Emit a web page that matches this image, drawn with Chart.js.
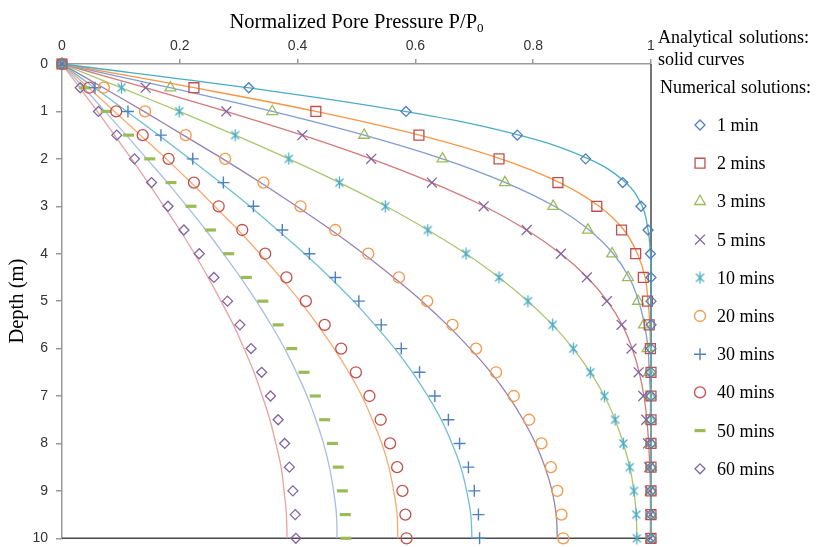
<!DOCTYPE html>
<html><head><meta charset="utf-8">
<script src="https://cdn.jsdelivr.net/npm/chart.js@4.4.1/dist/chart.umd.min.js"></script>
<style>html,body{margin:0;padding:0;background:#fff;}#wrap{width:817px;height:547px;}</style>
</head><body><div id="wrap"><canvas id="c" width="817" height="547"></canvas></div>
<script>
// ---- data ----
const depths = [0,0.5,1,1.5,2,2.5,3,3.5,4,4.5,5,5.5,6,6.5,7,7.5,8,8.5,9,9.5,10];
const timeLabels = ['1 min','2 mins','3 mins','5 mins','10 mins','20 mins','30 mins','40 mins','50 mins','60 mins'];
const xTickValues = [0,0.2,0.4,0.6,0.8,1];
const yTickValues = [0,1,2,3,4,5,6,7,8,9,10];

// analytical solutions (solid curves)
const ana1  = [0,0.315,0.582,0.776,0.894,0.957,0.985,0.995,0.999,1,1,1,1,1,1,1,1,1,1,1,1];
const ana2  = [0,0.224,0.431,0.607,0.745,0.845,0.912,0.954,0.977,0.990,0.995,0.998,0.999,1,1,1,1,1,1,1,1];
const ana3  = [0,0.183,0.357,0.513,0.646,0.753,0.836,0.895,0.936,0.963,0.979,0.989,0.995,0.997,0.999,0.999,1,1,1,1,1];
const ana5  = [0,0.142,0.279,0.408,0.525,0.628,0.717,0.789,0.847,0.892,0.926,0.951,0.968,0.980,0.988,0.993,0.996,0.998,0.999,0.999,0.999];
const ana10 = [0,0.100,0.199,0.294,0.385,0.471,0.550,0.621,0.686,0.742,0.791,0.833,0.868,0.897,0.921,0.939,0.953,0.964,0.971,0.975,0.976];
const ana20 = [0,0.070,0.139,0.206,0.273,0.337,0.398,0.457,0.512,0.563,0.611,0.654,0.693,0.728,0.758,0.783,0.804,0.820,0.832,0.839,0.841];
const ana30 = [0,0.055,0.110,0.164,0.217,0.269,0.319,0.366,0.412,0.455,0.495,0.531,0.565,0.595,0.621,0.644,0.662,0.677,0.687,0.694,0.696];
const ana40 = [0,0.045,0.089,0.133,0.177,0.219,0.259,0.299,0.336,0.371,0.404,0.434,0.462,0.487,0.509,0.527,0.543,0.555,0.563,0.569,0.570];
const ana50 = [0,0.037,0.073,0.109,0.144,0.179,0.212,0.244,0.274,0.303,0.330,0.355,0.378,0.398,0.416,0.431,0.444,0.454,0.461,0.466,0.467];
const ana60 = [0,0.030,0.060,0.089,0.118,0.146,0.173,0.200,0.225,0.248,0.270,0.291,0.309,0.326,0.340,0.353,0.363,0.372,0.377,0.381,0.382];

// numerical solutions (markers)
const num1  = [0,0.317,0.584,0.773,0.889,0.952,0.983,0.995,0.999,1,1,1,1,1,1,1,1,1,1,1,1];
const num2  = [0,0.224,0.431,0.606,0.742,0.842,0.908,0.950,0.974,0.987,0.994,0.997,0.999,1,1,1,1,1,1,1,1];
const num3  = [0,0.184,0.357,0.513,0.646,0.752,0.834,0.893,0.934,0.961,0.978,0.988,0.994,0.997,0.999,0.999,1,1,1,1,1];
const num5  = [0,0.142,0.279,0.408,0.525,0.628,0.716,0.789,0.847,0.891,0.925,0.950,0.967,0.979,0.987,0.992,0.995,0.997,0.998,0.999,0.999];
const num10 = [0,0.101,0.199,0.294,0.385,0.471,0.549,0.621,0.686,0.742,0.791,0.833,0.868,0.897,0.921,0.939,0.953,0.964,0.971,0.975,0.976];
const num20 = [0,0.071,0.141,0.210,0.277,0.342,0.405,0.464,0.520,0.572,0.620,0.663,0.703,0.737,0.767,0.793,0.814,0.830,0.841,0.848,0.851];
const num30 = [0,0.056,0.112,0.168,0.222,0.274,0.325,0.374,0.420,0.464,0.504,0.542,0.576,0.607,0.633,0.656,0.675,0.690,0.700,0.707,0.709];
const num40 = [0,0.046,0.092,0.137,0.181,0.224,0.266,0.306,0.345,0.381,0.414,0.446,0.474,0.499,0.522,0.541,0.557,0.569,0.578,0.583,0.585];
const num50 = [0,0.038,0.075,0.113,0.149,0.185,0.219,0.252,0.283,0.313,0.341,0.367,0.390,0.411,0.430,0.446,0.459,0.469,0.476,0.481,0.482];
const num60 = [0,0.031,0.062,0.093,0.123,0.152,0.180,0.207,0.233,0.258,0.281,0.302,0.321,0.339,0.354,0.367,0.378,0.386,0.392,0.396,0.397];

const anaSeries = [ana1,ana2,ana3,ana5,ana10,ana20,ana30,ana40,ana50,ana60];
const numSeries = [num1,num2,num3,num5,num10,num20,num30,num40,num50,num60];

// ---- styles ----
const curveColors = ['#4BACC6','#F79646','#7F9CD3','#D27A77','#A9C66F','#9580B4','#6FBFD3','#F8AA70','#A9BDE3','#E7A3A1'];
const markerColors = ['#4F81BD','#C0504D','#9BBB59','#8064A2','#4BACC6','#F79646','#4F81BD','#C0504D','#9BBB59','#8064A2'];

function makeAsterisk(color){
  const c=document.createElement('canvas'); c.width=13; c.height=13;
  const g=c.getContext('2d'); g.strokeStyle=color; g.lineWidth=1.3;
  g.beginPath();
  g.moveTo(2.5,2.5); g.lineTo(10.5,10.5);
  g.moveTo(10.5,2.5); g.lineTo(2.5,10.5);
  g.moveTo(6.5,0.5); g.lineTo(6.5,12.5);
  g.stroke(); return c;
}
const markerStyles = [
  {pointStyle:'rectRot', radius:5, bw:1.3},
  {pointStyle:'rect', radius:7, bw:1.3},
  {pointStyle:'triangle', radius:6.2, bw:1.3},
  {pointStyle:'crossRot', radius:7, bw:1.3},
  {pointStyle:makeAsterisk('#4BACC6'), radius:6, bw:1.3},
  {pointStyle:'circle', radius:5.5, bw:1.3},
  {pointStyle:'cross', radius:6, bw:1.4},
  {pointStyle:'circle', radius:5.5, bw:1.3},
  {pointStyle:'line', radius:5.5, bw:3.2},
  {pointStyle:'rectRot', radius:5, bw:1.3}
];

const toPoints = arr => arr.map((v,i)=>({x:v, y:depths[i]}));

const datasets = [];
numSeries.forEach((arr,i)=>{
  datasets.push({
    label: timeLabels[i], data: toPoints(arr), showLine:false,
    pointStyle: markerStyles[i].pointStyle, pointRadius: markerStyles[i].radius,
    pointBorderColor: markerColors[i], pointBackgroundColor:'rgba(0,0,0,0)',
    pointBorderWidth: markerStyles[i].bw, pointHoverRadius: markerStyles[i].radius, clip:false
  });
});
anaSeries.forEach((arr,i)=>{
  datasets.push({
    label: 'analytical '+timeLabels[i], data: toPoints(arr), showLine:true,
    borderColor: curveColors[i], borderWidth:1.3, pointRadius:0, tension:0.4, fill:false, clip:false
  });
});

const axisColor = '#9a9a9a';
const fontSerif = '"Liberation Serif", "Times New Roman", serif';

const decorPlugin = {
  id:'decor',
  beforeDatasetsDraw(chart){
    const {ctx, chartArea:a} = chart;
    ctx.save();
    ctx.strokeStyle = '#4a4a4a'; ctx.lineWidth = 1.5;
    ctx.beginPath();
    ctx.moveTo(a.right, a.top); ctx.lineTo(a.right, a.bottom);
    ctx.moveTo(a.left, a.bottom); ctx.lineTo(a.right, a.bottom);
    ctx.stroke();
    ctx.restore();
  },
  afterDraw(chart){
    const {ctx, chartArea:a} = chart;
    ctx.save();
    ctx.fillStyle = '#000';
    // x title with subscript
    const main = 'Normalized Pore Pressure P/P', sub = '0';
    ctx.font = '20.5px ' + fontSerif;
    const wMain = ctx.measureText(main).width;
    ctx.font = '13px ' + fontSerif;
    const wSub = ctx.measureText(sub).width;
    let x0 = (a.left + a.right)/2 - (wMain + wSub)/2;
    ctx.textBaseline = 'alphabetic'; ctx.textAlign='left';
    ctx.font = '20.5px ' + fontSerif;
    ctx.fillText(main, x0, 28);
    ctx.font = '13px ' + fontSerif;
    ctx.fillText(sub, x0 + wMain, 32);
    // y title
    ctx.save();
    ctx.translate(18, (a.top + a.bottom)/2);
    ctx.rotate(-Math.PI/2);
    ctx.font = '20.5px ' + fontSerif;
    ctx.textAlign='center'; ctx.textBaseline='middle';
    ctx.fillText('Depth (m)', 0, 0);
    ctx.restore();
    // legend
    ctx.font = '18px ' + fontSerif;
    ctx.textAlign='left'; ctx.textBaseline='alphabetic';
    ctx.fillText('Analytical', 658, 43);
    ctx.fillText('solutions:', 739, 43);
    ctx.fillText('solid curves', 658, 65);
    ctx.fillText('Numerical', 660, 93);
    ctx.fillText('solutions:', 741, 93);
    const mx = 700, tx = 717, y0 = 125, step = 38.2;
    timeLabels.forEach((lab,i)=>{
      const y = y0 + i*step;
      const st = markerStyles[i];
      ctx.save();
      ctx.strokeStyle = markerColors[i]; ctx.fillStyle = 'rgba(0,0,0,0)';
      ctx.lineWidth = st.bw;
      Chart.helpers.drawPoint(ctx, {pointStyle: st.pointStyle, radius: st.radius, rotation:0, borderWidth: st.bw}, mx, y);
      ctx.restore();
      ctx.fillStyle = '#000';
      ctx.font = '18px ' + fontSerif;
      ctx.fillText(lab, tx, y + 6);
    });
    ctx.restore();
  }
};

function zeroPad(s){ s.paddingLeft = 0; s.paddingRight = 0; s.paddingTop = 0; s.paddingBottom = 0; }

new Chart(document.getElementById('c'), {
  type:'scatter',
  data:{datasets},
  options:{
    responsive:false, animation:false, devicePixelRatio:1,
    layout:{padding:{left:0, top:0, right:166, bottom:8}},
    plugins:{legend:{display:false}, tooltip:{enabled:false}},
    scales:{
      x:{
        type:'linear', position:'top', min:0, max:1,
        afterFit(s){ s.height = 64; zeroPad(s); },
        afterBuildTicks(s){ s.ticks = xTickValues.map(v=>({value:v})); },
        ticks:{ padding:4, color:'#333333', font:{family:'"Liberation Sans", Arial, sans-serif', size:14},
          callback:(v)=> (v===0||v===1) ? String(v) : v.toFixed(1) },
        grid:{ drawOnChartArea:false, drawTicks:true, tickLength:5, color:axisColor, lineWidth:1.5 },
        border:{ display:true, color:axisColor, width:1.5 }
      },
      y:{
        type:'linear', position:'left', min:0, max:10, reverse:true,
        afterFit(s){ s.width = 62; zeroPad(s); },
        afterBuildTicks(s){ s.ticks = yTickValues.map(v=>({value:v})); },
        ticks:{ padding:8, color:'#333333', font:{family:'"Liberation Sans", Arial, sans-serif', size:14},
          callback:(v)=> String(v) },
        grid:{ drawOnChartArea:false, drawTicks:true, tickLength:6, color:axisColor, lineWidth:1.5 },
        border:{ display:true, color:axisColor, width:1.5 }
      }
    }
  },
  plugins:[decorPlugin]
});
</script>
</body></html>
